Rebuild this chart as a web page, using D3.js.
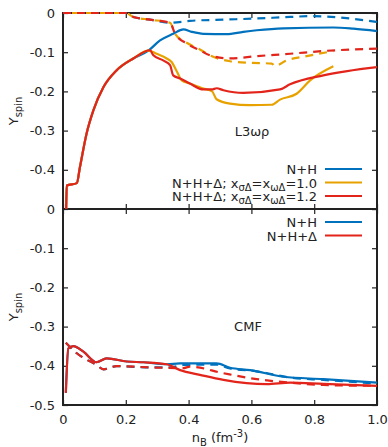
<!DOCTYPE html>
<html>
<head>
<meta charset="utf-8">
<script src="https://cdn.jsdelivr.net/npm/d3@7"></script>
<style>
  body { margin: 0; background: #fff; }
  text { font-family: "DejaVu Sans", sans-serif; fill: #222; }
</style>
</head>
<body>
<div id="chart"></div>
<script>
// ---- data ----
// L3wr panel
var l3NH = [[0.01,-0.5],[0.012,-0.44],[0.044,-0.434],[0.054,-0.393],[0.075,-0.308],[0.097,-0.248],[0.129,-0.189],[0.171,-0.146],[0.224,-0.116],[0.272,-0.096],
  [0.309,-0.070],[0.351,-0.053],[0.383,-0.042],[0.41,-0.048],[0.447,-0.053],[0.521,-0.054],[0.574,-0.048],[0.617,-0.044],[0.702,-0.039],[0.861,-0.037],[0.925,-0.040],[1.0,-0.046]];
var l3D10 = [[0.01,-0.5],[0.012,-0.44],[0.044,-0.434],[0.054,-0.393],[0.075,-0.308],[0.097,-0.248],[0.129,-0.189],[0.171,-0.146],[0.224,-0.116],[0.272,-0.096],
  [0.298,-0.104],[0.330,-0.116],[0.346,-0.125],[0.363,-0.150],[0.378,-0.172],[0.404,-0.180],[0.447,-0.193],[0.475,-0.200],[0.489,-0.220],[0.532,-0.231],[0.596,-0.235],[0.665,-0.234],[0.691,-0.221],[0.744,-0.206],[0.787,-0.172],[0.861,-0.136]];
var l3D12 = [[0.01,-0.5],[0.012,-0.44],[0.044,-0.434],[0.054,-0.393],[0.075,-0.308],[0.097,-0.248],[0.129,-0.189],[0.171,-0.146],[0.224,-0.116],[0.277,-0.095],
  [0.288,-0.108],[0.319,-0.121],[0.341,-0.133],[0.351,-0.159],[0.373,-0.167],[0.404,-0.180],[0.447,-0.195],[0.474,-0.195],[0.489,-0.192],[0.511,-0.197],[0.574,-0.204],[0.691,-0.195],[0.723,-0.182],[0.829,-0.159],[1.0,-0.138]];
var l3NHd = [[0.0,0],[0.2,0],[0.224,-0.010],[0.277,-0.017],[0.341,-0.025],[0.404,-0.020],[0.511,-0.017],[0.617,-0.014],[0.723,-0.010],[0.797,-0.008],[0.914,-0.014],[1.0,-0.023]];
var l3D10d = [[0.0,0],[0.2,0],[0.224,-0.010],[0.277,-0.017],[0.341,-0.025],[0.357,-0.053],[0.394,-0.076],[0.436,-0.093],[0.468,-0.108],[0.532,-0.123],[0.596,-0.127],[0.665,-0.129],[0.675,-0.135],[0.712,-0.121],[0.776,-0.110],[0.861,-0.097]];
var l3D12d = [[0.0,0],[0.2,0],[0.224,-0.010],[0.277,-0.017],[0.341,-0.025],[0.357,-0.053],[0.394,-0.078],[0.436,-0.095],[0.468,-0.108],[0.532,-0.116],[0.617,-0.110],[0.723,-0.104],[0.829,-0.097],[1.0,-0.091]];
// CMF panel
var cmfNH = [[0.009,-0.469],[0.017,-0.356],[0.033,-0.350],[0.065,-0.364],[0.107,-0.391],[0.139,-0.381],[0.203,-0.389],[0.256,-0.391],[0.330,-0.396],[0.373,-0.394],[0.436,-0.394],
  [0.489,-0.394],[0.532,-0.405],[0.596,-0.411],[0.702,-0.428],[0.829,-0.434],[1.0,-0.443]];
var cmfD = [[0.009,-0.469],[0.017,-0.356],[0.033,-0.350],[0.065,-0.364],[0.107,-0.391],[0.139,-0.381],[0.203,-0.389],[0.256,-0.391],[0.330,-0.396],[0.373,-0.411],[0.436,-0.423],
  [0.511,-0.436],[0.649,-0.447],[0.723,-0.443],[0.829,-0.446],[1.0,-0.451]];
var cmfNHd = [[0.009,-0.341],[0.044,-0.368],[0.107,-0.398],[0.129,-0.409],[0.171,-0.401],[0.277,-0.404],[0.340,-0.404],[0.383,-0.398],[0.489,-0.397],[0.532,-0.407],[0.617,-0.414],[0.723,-0.430],[0.829,-0.436],[1.0,-0.445]];
var cmfDd = [[0.009,-0.341],[0.044,-0.368],[0.107,-0.398],[0.129,-0.409],[0.171,-0.401],[0.277,-0.404],[0.383,-0.406],[0.404,-0.402],[0.511,-0.419],[0.617,-0.434],[0.723,-0.443],[0.829,-0.449],[1.0,-0.451]];

var xTicks = [0, 0.2, 0.4, 0.6, 0.8, 1.0];
var yTicksTop = [0, -0.1, -0.2, -0.3, -0.4];
var yTicksBot = [0, -0.1, -0.2, -0.3, -0.4, -0.5];

var colNH = "#0072bd", colD10 = "#e8a200", colD12 = "#e3241b";

var margin = {top: 13, left: 63},
    width = 314,
    panelH = 196;

var svg = d3.select("#chart").append("svg")
    .attr("width", 388)
    .attr("height", 447);

var x = d3.scaleLinear().domain([0, 1]).range([margin.left, margin.left + width]);
var yTop = d3.scaleLinear().domain([-0.5, 0]).range([margin.top + panelH, margin.top]);
var yBot = d3.scaleLinear().domain([-0.5, 0]).range([margin.top + 2 * panelH, margin.top + panelH]);

function fmt(d) { return d === 0 ? "0" : d3.format(".1f")(d).replace("−", "-"); }

function panel(y, yTicks, showX) {
  var g = svg.append("g");
  // left
  g.append("g").attr("transform", "translate(" + margin.left + ",0)")
    .call(d3.axisLeft(y).tickValues(yTicks).tickSize(-5).tickPadding(8).tickFormat(fmt))
    .call(function(a) { a.select(".domain").remove(); });
  // right
  g.append("g").attr("transform", "translate(" + (margin.left + width) + ",0)")
    .call(d3.axisRight(y).tickValues(yTicksBot).tickSize(-5).tickFormat(""))
    .call(function(a) { a.select(".domain").remove(); });
  // top
  g.append("g").attr("transform", "translate(0," + y.range()[1] + ")")
    .call(d3.axisTop(x).tickValues(xTicks).tickSize(-5).tickFormat(""))
    .call(function(a) { a.select(".domain").remove(); });
  // bottom
  g.append("g").attr("transform", "translate(0," + y.range()[0] + ")")
    .call(d3.axisBottom(x).tickValues(xTicks).tickSize(-5).tickPadding(10)
      .tickFormat(showX ? function(d) { return d === 0 ? "0" : d3.format(".1f")(d); } : ""))
    .call(function(a) { a.select(".domain").remove(); });
  g.selectAll(".tick line").attr("stroke", "#222").attr("stroke-width", 1.2);
  g.selectAll(".tick text").style("font-size", "13px").attr("fill", "#222");
  return g;
}

function frame(y) {
  svg.append("rect")
    .attr("x", margin.left).attr("y", y.range()[1])
    .attr("width", width).attr("height", panelH)
    .attr("fill", "none").attr("stroke", "#222").attr("stroke-width", 2);
}

function curve(y, data, color, dashed, offset) {
  svg.append("path")
    .datum(data)
    .attr("fill", "none")
    .attr("stroke", color)
    .attr("stroke-width", 2.2)
    .attr("stroke-linejoin", "round")
    .attr("stroke-dasharray", dashed ? "8,6" : null)
    .attr("stroke-dashoffset", offset || 0)
    .attr("d", d3.line().curve(d3.curveMonotoneX)
      .x(function(d) { return x(d[0]); }).y(function(d) { return y(d[1]); }));
}

panel(yTop, yTicksTop, false);
panel(yBot, yTicksBot, true);
frame(yTop);
frame(yBot);

// curves, top
curve(yTop, l3NHd, colNH, true);
curve(yTop, l3D10d, colD10, true, 5);
curve(yTop, l3D12d, colD12, true);
curve(yTop, l3NH, colNH, false);
curve(yTop, l3D10, colD10, false);
curve(yTop, l3D12, colD12, false);
// curves, bottom
curve(yBot, cmfNHd, colNH, true);
curve(yBot, cmfDd, colD12, true);
curve(yBot, cmfNH, colNH, false);
curve(yBot, cmfD, colD12, false);

// axis titles
function yLabel(cy) {
  var t = svg.append("text")
    .attr("transform", "translate(18," + cy + ") rotate(-90)")
    .attr("text-anchor", "middle")
    .style("font-size", "13px");
  t.append("tspan").text("Y");
  t.append("tspan").attr("dy", 4).style("font-size", "10px").text("spin");
}
yLabel(111);
yLabel(307);

var xl = svg.append("text").attr("x", 220).attr("y", 442).attr("text-anchor", "middle").style("font-size", "13px");
xl.append("tspan").text("n");
xl.append("tspan").attr("dy", 4).style("font-size", "10px").text("B");
xl.append("tspan").attr("dy", -4).text(" (fm");
xl.append("tspan").attr("dy", -5).style("font-size", "10px").text("-3");
xl.append("tspan").attr("dy", 5).text(")");

svg.append("text").attr("x", 252).attr("y", 136).attr("text-anchor", "middle").style("font-size", "13px").text("L3ωρ");
svg.append("text").attr("x", 248).attr("y", 331).attr("text-anchor", "middle").style("font-size", "13px").text("CMF");

// legends
function legendRow(ly, parts, color) {
  var t = svg.append("text").attr("x", 317).attr("y", ly + 5).attr("text-anchor", "end").style("font-size", "13px");
  parts.forEach(function(p) {
    var s = t.append("tspan").text(p[0]);
    if (p[1] === "sub") s.attr("dy", 3).style("font-size", "10px");
    if (p[1] === "up") s.attr("dy", -3);
  });
  svg.append("line").attr("x1", 325).attr("x2", 362).attr("y1", ly).attr("y2", ly)
    .attr("stroke", color).attr("stroke-width", 2.2);
}
legendRow(169, [["N+H"]], colNH);
legendRow(182.5, [["N+H+Δ; x"], ["σΔ", "sub"], ["=x", "up"], ["ωΔ", "sub"], ["=1.0", "up"]], colD10);
legendRow(196, [["N+H+Δ; x"], ["σΔ", "sub"], ["=x", "up"], ["ωΔ", "sub"], ["=1.2", "up"]], colD12);
legendRow(222, [["N+H"]], colNH);
legendRow(235.5, [["N+H+Δ"]], colD12);
</script>
</body>
</html>
